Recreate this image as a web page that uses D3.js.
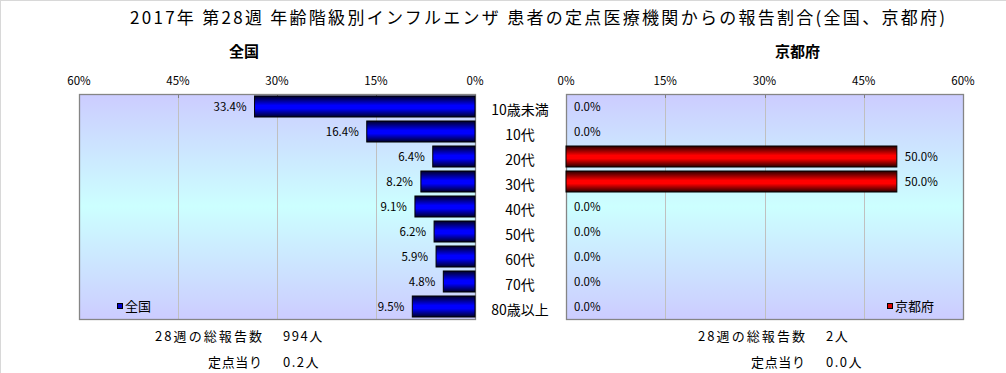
<!DOCTYPE html>
<html lang="ja">
<head>
<meta charset="utf-8">
<title>年齢階級別インフルエンザ患者の報告割合</title>
<script src="https://d3js.org/d3.v7.min.js"></script>
<style>
  body { margin: 0; background: #fff; }
  svg text { font-family: "Noto Sans CJK JP", sans-serif; fill: #000; }
</style>
</head>
<body>
<script>
// data
var categories = ["10歳未満", "10代", "20代", "30代", "40代", "50代", "60代", "70代", "80歳以上"];
var zenkoku = [33.4, 16.4, 6.4, 8.2, 9.1, 6.2, 5.9, 4.8, 9.5];
var kyoto = [0.0, 0.0, 50.0, 50.0, 0.0, 0.0, 0.0, 0.0, 0.0];
var tickValues = [0, 15, 30, 45, 60];
var titleText = "2017年 第28週 年齢階級別インフルエンザ 患者の定点医療機関からの報告割合(全国、京都府)";
var footerLeft = ["28週の総報告数", "994人", "定点当り", "0.2人"];
var footerRight = ["28週の総報告数", "2人", "定点当り", "0.0人"];

var width = 1006, height = 373;
var plotTop = 94, plotBottom = 319;

var svg = d3.select("body").append("svg")
    .attr("width", width)
    .attr("height", height);

// faint frame on top and left edge
svg.append("line").attr("x1", 0).attr("x2", width).attr("y1", 0.5).attr("y2", 0.5).attr("stroke", "#d8d8d8");
svg.append("line").attr("x1", 0.5).attr("x2", 0.5).attr("y1", 0).attr("y2", height).attr("stroke", "#d8d8d8");

var defs = svg.append("defs");

var bg = defs.append("linearGradient").attr("id", "bg").attr("x1", 0).attr("x2", 0).attr("y1", 0).attr("y2", 1);
bg.append("stop").attr("offset", "0%").attr("stop-color", "#ccccff");
bg.append("stop").attr("offset", "50%").attr("stop-color", "#ccffff");
bg.append("stop").attr("offset", "100%").attr("stop-color", "#ccccff");

function barGrad(id, dark, mid) {
    var g = defs.append("linearGradient").attr("id", id).attr("x1", 0).attr("x2", 0).attr("y1", 0).attr("y2", 1);
    g.append("stop").attr("offset", "0%").attr("stop-color", dark);
    g.append("stop").attr("offset", "45%").attr("stop-color", mid);
    g.append("stop").attr("offset", "60%").attr("stop-color", mid);
    g.append("stop").attr("offset", "100%").attr("stop-color", dark);
}
barGrad("blueBar", "#000028", "#0000ff");
barGrad("redBar", "#280000", "#ff0000");

var y = d3.scaleBand()
    .domain(categories)
    .range([plotTop, plotBottom])
    .paddingInner(0.16)
    .paddingOuter(0.08);

var xLeft = d3.scaleLinear().domain([0, 60]).range([475, 79]);
var xRight = d3.scaleLinear().domain([0, 60]).range([566, 963]);

// title
svg.append("text")
    .attr("x", 130).attr("y", 24)
    .attr("textLength", 815)
    .attr("lengthAdjust", "spacing")
    .style("font-size", "17px")
    .text(titleText);

function panel(x, values, name, grad, legendColor, legendX, isLeft, footer) {
    var g = svg.append("g");
    var x0 = x(0), x60 = x(60);
    var l = Math.min(x0, x60), r = Math.max(x0, x60);
    var rows = categories.map(function(c, i) { return { cat: c, v: values[i] }; });

    g.append("rect")
        .attr("x", l).attr("y", plotTop)
        .attr("width", r - l).attr("height", plotBottom - plotTop)
        .attr("fill", "url(#bg)");

    // grid lines
    g.selectAll(".grid")
        .data(tickValues.filter(function(d) { return d > 0 && d < 60; }))
        .enter().append("line")
        .attr("x1", function(d) { return Math.round(x(d)) + 0.5; })
        .attr("x2", function(d) { return Math.round(x(d)) + 0.5; })
        .attr("y1", plotTop).attr("y2", plotBottom)
        .attr("stroke", "#c0c0c0");

    // tick marks at top
    g.selectAll(".tick")
        .data(tickValues)
        .enter().append("line")
        .attr("x1", function(d) { return Math.round(x(d)) + 0.5; })
        .attr("x2", function(d) { return Math.round(x(d)) + 0.5; })
        .attr("y1", plotTop).attr("y2", plotTop + 4)
        .attr("stroke", "#808080");

    g.append("rect")
        .attr("x", l + 0.5).attr("y", plotTop + 0.5)
        .attr("width", r - l).attr("height", plotBottom - plotTop)
        .attr("fill", "none")
        .attr("stroke", "#858585")
        .attr("stroke-width", 1.3);

    // tick labels
    g.selectAll(".tl")
        .data(tickValues)
        .enter().append("text")
        .attr("x", function(d) { return x(d); })
        .attr("y", 85)
        .attr("text-anchor", "middle")
        .style("font-size", "11.5px")
        .text(function(d) { return d + "%"; });

    // panel name
    g.append("text")
        .attr("x", (l + r) / 2 - (isLeft ? 33 : -33))
        .attr("y", 57)
        .attr("text-anchor", "middle")
        .style("font-size", "15px")
        .style("font-weight", "bold")
        .text(name);

    // bars
    g.selectAll(".bar")
        .data(rows.filter(function(d) { return d.v > 0; }))
        .enter().append("rect")
        .attr("x", function(d) { return Math.min(x(0), x(d.v)); })
        .attr("y", function(d) { return y(d.cat); })
        .attr("width", function(d) { return Math.abs(x(d.v) - x(0)); })
        .attr("height", y.bandwidth())
        .attr("fill", "url(#" + grad + ")")
        .attr("stroke", "#000")
        .attr("stroke-width", 1);

    // value labels
    g.selectAll(".vl")
        .data(rows)
        .enter().append("text")
        .attr("x", function(d) { return isLeft ? x(d.v) - 8 : x(d.v) + 8; })
        .attr("y", function(d) { return y(d.cat) + y.bandwidth() / 2 + 4; })
        .attr("text-anchor", isLeft ? "end" : "start")
        .style("font-size", "11.5px")
        .text(function(d) { return d.v.toFixed(1) + "%"; });

    // legend
    g.append("rect")
        .attr("x", legendX + 0.5).attr("y", 303.5)
        .attr("width", 5).attr("height", 5)
        .attr("fill", legendColor)
        .attr("stroke", "#000");
    g.append("text")
        .attr("x", legendX + 8).attr("y", 311)
        .style("font-size", "13px")
        .text(name);

    // footer
    var fx = isLeft ? 262 : 805;
    g.append("text").attr("x", fx).attr("y", 341).attr("text-anchor", "end")
        .attr("textLength", 107).attr("lengthAdjust", "spacing")
        .style("font-size", "13px").text(footer[0]);
    g.append("text").attr("x", fx + 21).attr("y", 341)
        .style("font-size", "13px").style("letter-spacing", "1.5px").text(footer[1]);
    g.append("text").attr("x", fx).attr("y", 367).attr("text-anchor", "end")
        .attr("textLength", 54).attr("lengthAdjust", "spacing")
        .style("font-size", "13px").text(footer[2]);
    g.append("text").attr("x", fx + 21).attr("y", 367)
        .style("font-size", "13px").style("letter-spacing", "1.5px").text(footer[3]);
}

panel(xLeft, zenkoku, "全国", "blueBar", "#0000cc", 117, true, footerLeft);
panel(xRight, kyoto, "京都府", "redBar", "#dd0000", 887, false, footerRight);

// category labels between the panels
svg.selectAll(".cat")
    .data(categories)
    .enter().append("text")
    .attr("x", 520)
    .attr("y", function(d) { return y(d) + y.bandwidth() / 2 + 8; })
    .attr("text-anchor", "middle")
    .style("font-size", "14px")
    .text(function(d) { return d; });
</script>
</body>
</html>
